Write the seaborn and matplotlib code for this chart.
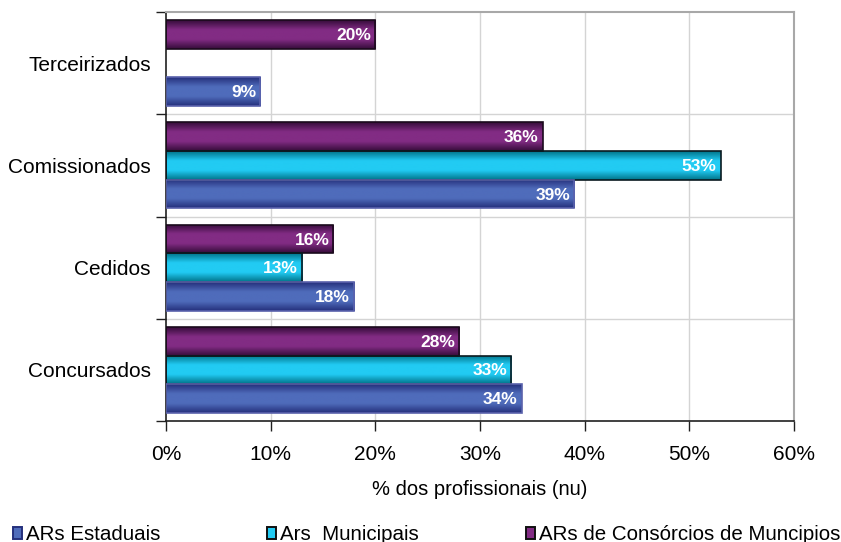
import numpy as np
import pandas as pd
import matplotlib
matplotlib.use("Agg")
import matplotlib.pyplot as plt
from matplotlib import font_manager
from matplotlib.font_manager import FontProperties
from matplotlib.colors import LinearSegmentedColormap
from matplotlib.patches import Rectangle
import seaborn as sns

# Data
categories = ["Terceirizados", "Comissionados", "Cedidos", "Concursados"]
series = ["ARs de Consórcios de Muncipios", "Ars  Municipais", "ARs Estaduais"]
consorcios = [20, 36, 16, 28]
municipais = [np.nan, 53, 13, 33]
estaduais = [9, 39, 18, 34]
x_ticks = [0, 10, 20, 30, 40, 50, 60]
x_label = "% dos profissionais (nu)"

sns.set_theme(style="white")
fonts = font_manager.fontManager.ttflist
names = {f.name for f in fonts}
base_font = "Liberation Sans" if "Liberation Sans" in names else "DejaVu Sans"
plt.rcParams["font.family"] = [base_font, "DejaVu Sans"]

# a normal-width bold face for the value labels
bold_file = None
for f in fonts:
    if f.name == base_font and f.weight in (700, "bold") and f.style == "normal" \
            and "narrow" not in f.fname.lower():
        bold_file = f.fname
        break
if bold_file:
    label_font = FontProperties(fname=bold_file, size=12.5)
else:
    label_font = FontProperties(family=base_font, weight="bold", size=12.5)

df = pd.DataFrame({
    "categoria": categories * 3,
    "serie": [series[0]] * 4 + [series[1]] * 4 + [series[2]] * 4,
    "valor": consorcios + municipais + estaduais,
})

# colour per series: (edge of bar, dark band, light centre)
styles = {
    series[0]: ("#1a0a1c", "#360c3a", "#822c84"),
    series[1]: ("#0a1a20", "#00748a", "#22cbf3"),
    series[2]: ("#5a62ac", "#25307c", "#4f6cbb"),
}

fig = plt.figure(figsize=(8.41, 5.42), dpi=100)
ax = fig.add_axes([166 / 841, 1 - 421 / 542, (794 - 166) / 841, (421 - 12) / 542])

sns.barplot(data=df, y="categoria", x="valor", hue="serie", order=categories,
            hue_order=series, orient="h", width=0.84, ax=ax, legend=False,
            palette=[styles[s][2] for s in series], saturation=1)

# gradient fill for every bar, clipped to the bar outline
for s, container in zip(series, ax.containers):
    edge, dark, light = styles[s]
    cmap = LinearSegmentedColormap.from_list(s, [dark, light, light, dark])
    grad = np.linspace(0, 1, 64).reshape(-1, 1)
    for patch in container.patches:
        w = patch.get_width()
        if not np.isfinite(w) or w == 0:
            continue
        x0, y0 = patch.get_x(), patch.get_y()
        h = patch.get_height()
        im = ax.imshow(grad, cmap=cmap, aspect="auto",
                       extent=[x0, x0 + w, y0 + h, y0], zorder=2,
                       interpolation="bicubic")
        im.set_clip_path(patch)
        patch.set_edgecolor(edge)
        patch.set_linewidth(1.2)
        patch.set_zorder(3)
        patch.set_facecolor("none")
        ax.text(x0 + w - 0.4, y0 + h / 2 + 0.01, f"{w:.0f}%", ha="right",
                va="center", color="white", fontproperties=label_font, zorder=4)
ax.set_xlim(0, 60)
ax.set_ylim(len(categories) - 0.5, -0.5)

# axes, ticks and grid
ax.set_xticks(x_ticks)
ax.set_xticklabels([f"{t}%" for t in x_ticks], fontsize=15, color="black")
ax.set_yticks(range(len(categories)))
ax.set_yticklabels(categories, fontsize=15, color="black")
ax.set_yticks(np.arange(-0.5, len(categories), 1), minor=True)
ax.tick_params(axis="y", which="major", length=0, pad=11)
ax.tick_params(axis="y", which="minor", length=7, width=1, color="#202020", left=True)
ax.tick_params(axis="x", which="major", length=7, width=1, color="#202020",
               bottom=True, pad=10)
ax.grid(False)
for t in x_ticks[1:-1]:
    ax.axvline(t, color="#d4d4d4", lw=1, zorder=0)
for b in np.arange(0.5, len(categories) - 0.5, 1):
    ax.axhline(b, color="#d4d4d4", lw=1, zorder=0)
ax.set_xlabel(x_label, fontsize=14.5, labelpad=12, color="black")
ax.set_ylabel("")
for side in ("left", "bottom"):
    ax.spines[side].set_color("#202020")
    ax.spines[side].set_linewidth(1.2)
for side in ("top", "right"):
    ax.spines[side].set_color("#a8a8a8")
    ax.spines[side].set_linewidth(1.5)
    ax.spines[side].set_visible(True)

# legend along the bottom edge
legend_items = [(series[2], 13), (series[1], 267), (series[0], 526)]
for s, px in legend_items:
    edge, dark, light = styles[s]
    fig.patches.append(Rectangle((px / 841, 1 - 539 / 542), 9 / 841, 12 / 542,
                                 transform=fig.transFigure, facecolor=light,
                                 edgecolor="#101010" if s != series[2] else dark,
                                 lw=1.4))
    fig.text((px + 13) / 841, 1 - 534 / 542, s, fontsize=14.8, va="center",
             ha="left", color="black")

fig.savefig("out.png", dpi=100, facecolor="white")
